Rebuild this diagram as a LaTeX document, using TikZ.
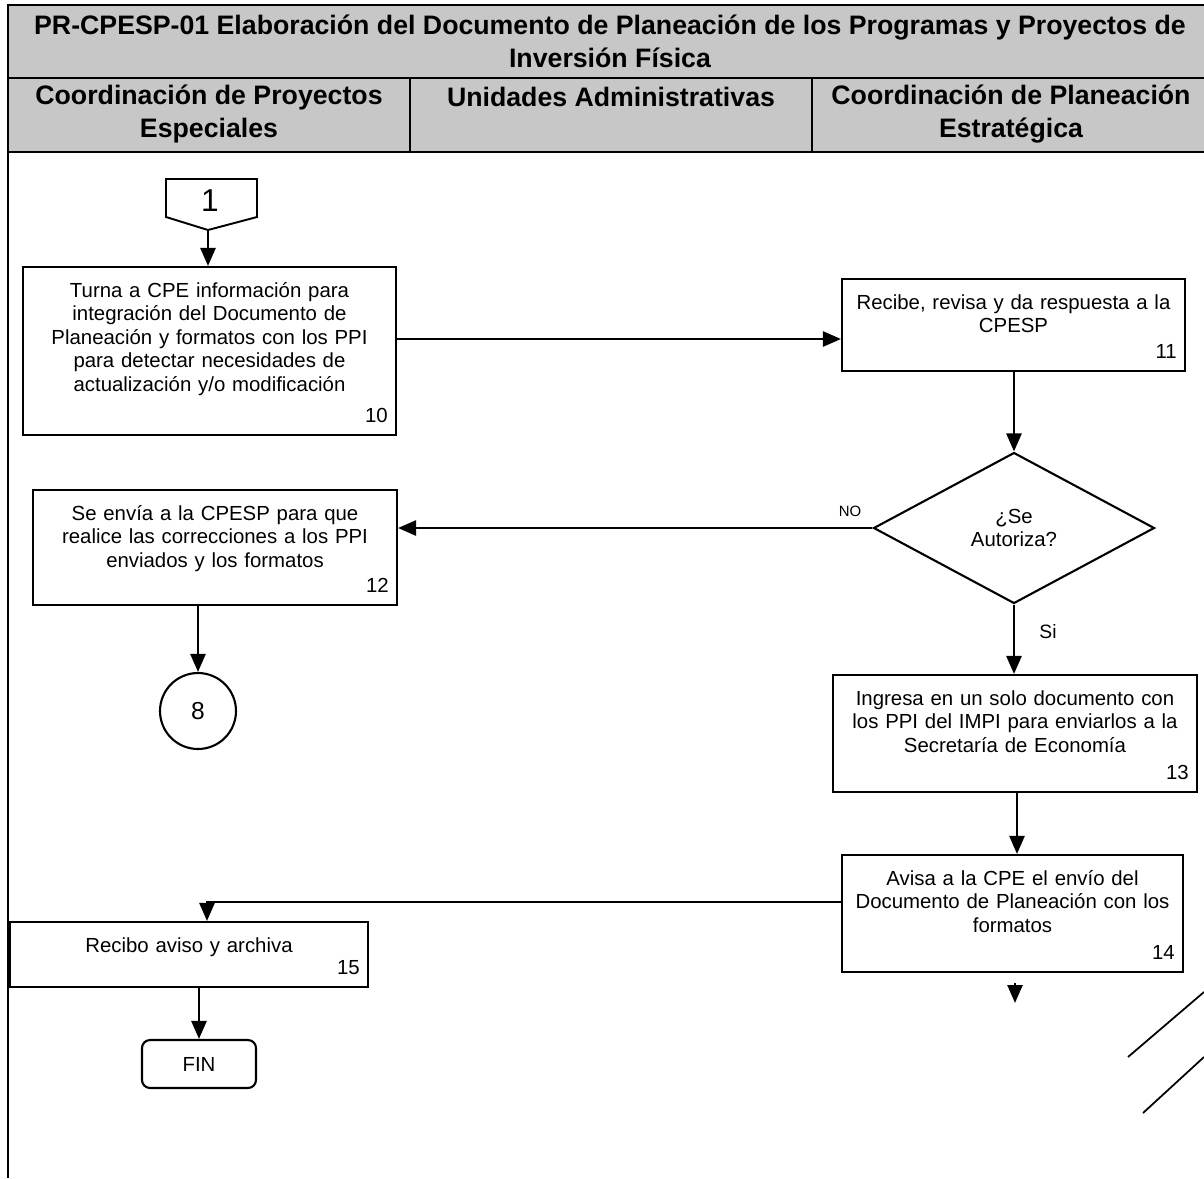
\documentclass[tikz,border=0pt]{standalone}
\usepackage{fontspec}
\setmainfont{Liberation Sans}
\newfontfamily\headfont{Liberation Sans}
\usetikzlibrary{arrows.meta,shapes.geometric,calc}

\begin{document}
\begin{tikzpicture}[x=0.02cm, y=-0.02cm,
    flow/.style={line width=1.4pt, -{Triangle[length=0.36cm,width=0.3cm]}},
    frame line/.style={line width=1.1pt},
    task/.style={draw, line width=1.2pt, fill=white, inner sep=0pt},
    tasktext/.style={anchor=north, align=center, inner sep=0pt, yshift=-0.32cm},
    num/.style={anchor=south east, inner sep=0pt, xshift=-0.18cm, yshift=0.26cm},
    decision/.style={diamond, draw, line width=1.2pt, align=center, inner sep=0pt},
    head/.style={font=\headfont\bfseries\fontsize{15.2}{18.7}\selectfont, align=center},
    every node/.style={font=\fontsize{11.6}{13.4}\selectfont}]
    \useasboundingbox (0,0) rectangle (1204,1178);

    % encabezado
    \fill[black!22] (8,5) rectangle (1204,152);
    \draw[frame line] (1204,5) -- (8,5) -- (8,1178);
    \draw[frame line] (8,78) -- (1204,78) (8,152) -- (1204,152)
          (410,78) -- (410,152) (812,78) -- (812,152);
    \node[head] (title) at (610,41)
        {PR-CPESP-01 Elaboración del Documento de Planeación de los Programas y Proyectos de\\Inversión Física};
    \node[head] (cpe) at (209,114) {Coordinación de Proyectos\\Especiales};
    \node[head] (ua) at (611,97) {Unidades Administrativas};
    \node[head] (cpl) at (1011,114) {Coordinación de Planeación\\Estratégica};

    % conector de entrada
    \draw[frame line] (166,179) -- (257,179) -- (257,217) -- (208,230) -- (166,217) -- cycle;
    \node[font=\fontsize{18}{20}\selectfont] (con1) at (210,201) {1};
    \coordinate (con1tip) at (208,230);

    % actividades
    \node[task, minimum width=7.46cm, minimum height=3.36cm,
        label={[tasktext, text width=7.2cm]north:Turna a CPE información para\\integración del Documento de\\Planeación y formatos con los PPI\\para detectar necesidades de\\actualización y/o modificación},
        label={[num]south east:10}] (b10) at (209.5,351) {};
    \node[task, minimum width=6.86cm, minimum height=1.84cm,
        label={[tasktext, text width=6.7cm]north:Recibe, revisa y da respuesta a la\\CPESP},
        label={[num]south east:11}] (b11) at (1013.5,325) {};
    \node[decision, minimum width=5.62cm, minimum height=3.02cm] (dec) at (1014,528) {¿Se\\Autoriza?};
    \node[task, minimum width=7.28cm, minimum height=2.3cm,
        label={[tasktext, text width=7.1cm]north:Se envía a la CPESP para que\\realice las correcciones a los PPI\\enviados y los formatos},
        label={[num]south east:12}] (b12) at (215,547.5) {};
    \node[draw, circle, line width=1.2pt, minimum size=1.52cm, font=\fontsize{14}{16}\selectfont] (c8) at (198,711) {8};
    \node[task, minimum width=7.28cm, minimum height=2.34cm,
        label={[tasktext, text width=7.1cm]north:Ingresa en un solo documento con\\los PPI del IMPI para enviarlos a la\\Secretaría de Economía},
        label={[num]south east:13}] (b13) at (1015,733.5) {};
    \node[task, minimum width=6.82cm, minimum height=2.34cm,
        label={[tasktext, text width=6.7cm]north:Avisa a la CPE el envío del\\Documento de Planeación con los\\formatos},
        label={[num]south east:14}] (b14) at (1012.5,913.5) {};
    \node[task, minimum width=7.16cm, minimum height=1.3cm,
        label={[tasktext, text width=7cm]north:Recibo aviso y archiva},
        label={[num]south east:15}] (b15) at (189,954.5) {};
    \node[draw, rounded corners=0.16cm, line width=1.2pt, minimum width=2.28cm, minimum height=0.96cm] (fin) at (199,1064) {FIN};

    \node[font=\fontsize{8.5}{10}\selectfont] (no) at (850,511) {NO};
    \node[font=\fontsize{11}{13}\selectfont] (si) at (1048,632) {Si};

    % flechas
    \draw[flow] (con1tip) -- (con1tip |- b10.north);
    \draw[flow] ([yshift=0.24cm]b10.east) -- ([yshift=0.24cm]b10.east -| b11.west);
    \draw[flow] (dec.north |- b11.south) -- (dec.north);
    \draw[flow] (dec.west) -- (dec.west -| b12.east);
    \draw[flow] (c8.north |- b12.south) -- (c8.north);
    \draw[flow] (dec.south) -- (dec.south |- b13.north);
    \draw[flow] ([xshift=0.04cm]b13.south) -- ([xshift=0.04cm]b13.south |- b14.north);
    \draw[flow] ([yshift=0.23cm]b14.west) -| ([xshift=0.36cm]b15.north);
    \draw[flow] (fin.north |- b15.south) -- (fin.north);
    \coordinate (stub) at (1015,983);
    \coordinate (stubend) at (1015,1003);
    \draw[flow] (stub) -- (stubend);

    % marcas de cierre
    \draw[line width=1pt] (1128,1057) -- (1204,992) (1143,1113) -- (1204,1057);
\end{tikzpicture}
\end{document}
